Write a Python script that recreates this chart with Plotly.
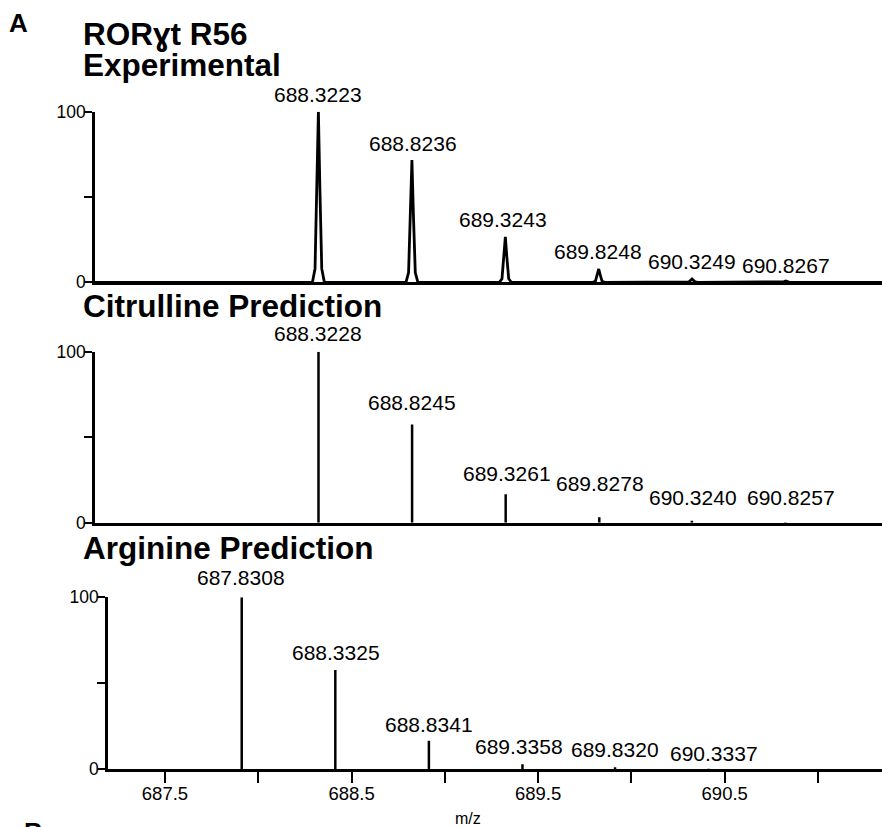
import plotly.graph_objects as go

# ---------------- data ----------------
# Experimental profile spectrum: peak centroids / relative intensities
exp_peak_mz = [688.3223, 688.8236, 689.3243, 689.8248, 690.3249, 690.8267]
exp_peak_int = [100, 71.7, 26.7, 7.8, 2.0, 0.8]

# Experimental profile trace (points read along the drawn profile)
exp_profile_mz = [
    687.125,
    688.2903, 688.3043, 688.3143, 688.3223, 688.3303, 688.3403, 688.3543,
    688.7916, 688.8056, 688.8156, 688.8236, 688.8316, 688.8416, 688.8556,
    689.2923, 689.3063, 689.3163, 689.3243, 689.3323, 689.3423, 689.3563,
    689.7928, 689.8068, 689.8168, 689.8248, 689.8328, 689.8428, 689.8568,
    690.2929, 690.3069, 690.3169, 690.3249, 690.3329, 690.3429, 690.3569,
    690.7947, 690.8087, 690.8187, 690.8267, 690.8347, 690.8447, 690.8587,
    691.343,
]
exp_profile_int = [
    0,
    0, 8, 55, 100, 55, 8, 0,
    0, 5.7, 39.4, 71.7, 39.4, 5.7, 0,
    0, 2.1, 14.7, 26.7, 14.7, 2.1, 0,
    0, 0.6, 4.3, 7.8, 4.3, 0.6, 0,
    0, 0.2, 1.1, 2.0, 1.1, 0.2, 0,
    0, 0.1, 0.4, 0.8, 0.4, 0.1, 0,
    0,
]

# Citrulline prediction (sticks)
cit_mz = [688.3228, 688.8245, 689.3261, 689.8278, 690.3240, 690.8257]
cit_int = [100, 57.5, 16.6, 3.2, 1.2, 0.3]

# Arginine prediction (sticks)
arg_mz = [687.8308, 688.3325, 688.8341, 689.3358, 689.8320, 690.3337]
arg_int = [100, 57.7, 16.6, 3.0, 1.2, 0.3]

x_tick_vals = [687.5, 688.0, 688.5, 689.0, 689.5, 690.0, 690.5, 691.0]
x_tick_text = ["687.5", "", "688.5", "", "689.5", "", "690.5", ""]
y_tick_vals = [0, 50, 100]
y_tick_text = ["0", "", "100"]

panel_titles = ["Experimental", "Citrulline Prediction", "Arginine Prediction"]
main_title = "RORɣt R56"

# ---------------- layout constants ----------------
W, H = 882, 827
FONT = "Arial, 'Liberation Sans', Helvetica, sans-serif"
INK = "#000000"
AXW = 2.6

def fx(px):
    return px / W

def fy(py):
    return 1 - py / H

# panel pixel geometry (y of value 0 and value 100, left edge, m/z range)
panels = {
    "top": dict(y0=282.3, y100=111.7, xl=95, rng=[687.125, 691.343]),
    "mid": dict(y0=522.7, y100=351.7, xl=95, rng=[687.125, 691.343]),
    "bot": dict(y0=769.3, y100=597.3, xl=108, rng=[687.114, 691.263]),
}

fig = go.Figure()

# Experimental profile
fig.add_trace(go.Scatter(
    x=exp_profile_mz, y=exp_profile_int, mode="lines",
    line=dict(color=INK, width=2.8), xaxis="x", yaxis="y",
    hoverinfo="skip", showlegend=False,
))

def sticks(mz, inten):
    xs, ys = [], []
    for m, v in zip(mz, inten):
        xs += [m, m, None]
        ys += [0, v, None]
    return xs, ys

sx, sy = sticks(cit_mz, cit_int)
fig.add_trace(go.Scatter(x=sx, y=sy, mode="lines", line=dict(color=INK, width=2.5),
                         xaxis="x2", yaxis="y2", hoverinfo="skip", showlegend=False))
sx, sy = sticks(arg_mz, arg_int)
fig.add_trace(go.Scatter(x=sx, y=sy, mode="lines", line=dict(color=INK, width=2.5),
                         xaxis="x3", yaxis="y3", hoverinfo="skip", showlegend=False))
# invisible trace carrying the m/z tick axis under the bottom panel
fig.add_trace(go.Scatter(x=[x_tick_vals[0]], y=[0], mode="markers", marker=dict(opacity=0),
                         xaxis="x4", yaxis="y4", hoverinfo="skip", showlegend=False))

def xaxis(p, anchor):
    return dict(
        domain=[fx(p["xl"]), 1], range=p["rng"], anchor=anchor,
        showline=True, linecolor=INK, linewidth=AXW, showgrid=False, zeroline=False,
        ticks="", showticklabels=False, fixedrange=True, automargin=False,
    )

def yaxis(p, anchor):
    return dict(
        domain=[fy(p["y0"]), fy(p["y100"])], range=[0, 100], anchor=anchor,
        showline=True, linecolor=INK, linewidth=AXW, showgrid=False, zeroline=False,
        ticks="outside", ticklen=8, tickwidth=2.4, tickcolor=INK,
        tickvals=y_tick_vals, ticktext=y_tick_text, ticklabelstandoff=-5,
        tickfont=dict(family=FONT, size=17.5, color=INK),
        fixedrange=True, automargin=False,
    )

fig.update_layout(
    width=W, height=H,
    margin=dict(l=0, r=0, t=0, b=0),
    paper_bgcolor="white", plot_bgcolor="rgba(0,0,0,0)",
    showlegend=False,
    font=dict(family=FONT, color=INK),
    xaxis=xaxis(panels["top"], "y"),
    yaxis=yaxis(panels["top"], "x"),
    xaxis2=xaxis(panels["mid"], "y2"),
    yaxis2=yaxis(panels["mid"], "x2"),
    xaxis3=xaxis(panels["bot"], "y3"),
    yaxis3=yaxis(panels["bot"], "x3"),
    xaxis4=dict(
        domain=[fx(95), 1], range=panels["top"]["rng"], anchor="y4",
        showline=False, showgrid=False, zeroline=False,
        ticks="outside", ticklen=13, tickwidth=2.4, tickcolor=INK,
        tickvals=x_tick_vals, ticktext=x_tick_text, ticklabelstandoff=-6,
        tickfont=dict(family=FONT, size=18.5, color=INK),
        fixedrange=True, automargin=False,
    ),
    yaxis4=dict(
        domain=[fy(panels["bot"]["y0"]), fy(panels["bot"]["y100"])], range=[0, 100],
        anchor="x4", visible=False, fixedrange=True, automargin=False,
    ),
)

ann = []

def peak_labels(mz, inten, xref, yref, gaps, xshifts):
    for m, v, g, s in zip(mz, inten, gaps, xshifts):
        ann.append(dict(
            x=m, y=v, xref=xref, yref=yref, text=f"{m:.4f}", showarrow=False,
            xanchor="center", yanchor="bottom", yshift=g - 5.45, xshift=s,
            font=dict(family=FONT, size=21, color=INK),
        ))

peak_labels(exp_peak_mz, exp_peak_int, "x", "y",
            [9, 8.3, 9, 9, 9, 7.7], [0, 1, -2, -1, 0, 0])
peak_labels(cit_mz, cit_int, "x2", "y2",
            [10, 14.3, 12.6, 25.6, 15, 17], [0, 0, 1, 1, 1, 6])
peak_labels(arg_mz, arg_int, "x3", "y3",
            [11.3, 9.3, 8.4, 10, 9.4, 7.3], [-1, 1, 0, -3, 0, 5])

def text_at(txt, xpx, baseline, size, bold=False, xanchor="left"):
    ann.append(dict(
        x=fx(xpx), y=fy(baseline - 0.3465 * size), xref="paper", yref="paper",
        text=f"<b>{txt}</b>" if bold else txt, showarrow=False,
        xanchor=xanchor, yanchor="middle", borderpad=0,
        font=dict(family=FONT, size=size, color=INK),
    ))

text_at("A", 8, 32.3, 26, bold=True)
text_at(main_title, 82, 45, 31.5, bold=True)
text_at(panel_titles[0], 82, 76, 31.5, bold=True)
text_at(panel_titles[1], 82, 316.7, 31.5, bold=True)
text_at(panel_titles[2], 82, 559, 31.5, bold=True)
text_at("m/z", 468, 824, 16, xanchor="center")
text_at("B", 23, 840.6, 26, bold=True)

fig.update_layout(annotations=ann)

fig.write_html("out.html", config={"displayModeBar": False},
               post_script="document.body.style.margin='0';")
